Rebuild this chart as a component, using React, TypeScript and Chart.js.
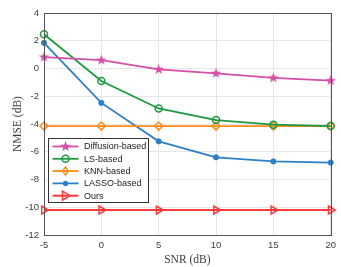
import React, { useEffect, useRef } from "react";
import { Chart, registerables } from "chart.js";

Chart.register(...registerables);

const snr = [-5, 0, 5, 10, 15, 20];
const diffusion = [0.82, 0.6, -0.07, -0.35, -0.68, -0.88];
const lsBased = [2.47, -0.9, -2.88, -3.72, -4.05, -4.15];
const knnBased = [-4.15, -4.15, -4.15, -4.15, -4.15, -4.15];
const lassoBased = [1.85, -2.48, -5.25, -6.4, -6.7, -6.78];
const ours = [-10.2, -10.2, -10.2, -10.2, -10.2, -10.2];

const seriesNames = ["Diffusion-based", "LS-based", "KNN-based", "LASSO-based", "Ours"];
const xTicks = [-5, 0, 5, 10, 15, 20];
const yTicks = [-12, -10, -8, -6, -4, -2, 0, 2, 4];

const C_DIFF = "#d44fa8";
const C_LS = "#1e9a3e";
const C_KNN = "#ff8c1a";
const C_LASSO = "#2d7fc6";
const C_OURS = "#ff3a3a";

function makeStar(color: string, r: number) {
  const size = Math.ceil(r * 2 + 2);
  const c = document.createElement("canvas");
  c.width = size;
  c.height = size;
  const ctx = c.getContext("2d")!;
  const cx = size / 2, cy = size / 2;
  ctx.beginPath();
  for (let i = 0; i < 10; i++) {
    const rad = i % 2 === 0 ? r : r * 0.42;
    const a = -Math.PI / 2 + (i * Math.PI) / 5;
    const x = cx + rad * Math.cos(a);
    const y = cy + rad * Math.sin(a);
    if (i === 0) ctx.moveTo(x, y);
    else ctx.lineTo(x, y);
  }
  ctx.closePath();
  ctx.fillStyle = color;
  ctx.fill();
  return c;
}

function pts(vals: number[]) {
  return snr.map((x, i) => ({ x, y: vals[i] }));
}

export default function App() {
  const ref = useRef<HTMLCanvasElement | null>(null);
  useEffect(() => {
    if (!ref.current) return;
    const star = makeStar(C_DIFF, 5.5);

    const legendPlugin = {
      id: "boxLegend",
      afterDraw(chart: any) {
        const ctx = chart.ctx as CanvasRenderingContext2D;
        const a = chart.chartArea;
        ctx.save();
        ctx.strokeStyle = "#555555";
        ctx.lineWidth = 1;
        ctx.strokeRect(Math.round(a.left) + 0.5, Math.round(a.top) + 0.5, Math.round(a.right - a.left), Math.round(a.bottom - a.top));
        const bx = a.left + 4.5, by = a.top + 125.5, bw = 100, bh = 64;
        ctx.fillStyle = "#ffffff";
        ctx.fillRect(bx, by, bw, bh);
        ctx.strokeStyle = "#333333";
        ctx.strokeRect(bx, by, bw, bh);
        const colors = [C_DIFF, C_LS, C_KNN, C_LASSO, C_OURS];
        const widths = [1.8, 1.8, 1.8, 1.8, 2];
        for (let i = 0; i < 5; i++) {
          const y = by + 8 + i * 12.3;
          const x0 = bx + 4, x1 = bx + 30, xm = (x0 + x1) / 2;
          ctx.strokeStyle = colors[i];
          ctx.lineWidth = widths[i];
          ctx.beginPath();
          ctx.moveTo(x0, y);
          ctx.lineTo(x1, y);
          ctx.stroke();
          ctx.lineWidth = 1.5;
          ctx.beginPath();
          if (i === 0) {
            ctx.drawImage(star, xm - star.width / 2, y - star.height / 2);
          } else if (i === 1) {
            ctx.arc(xm, y, 3.5, 0, Math.PI * 2);
            ctx.stroke();
          } else if (i === 2) {
            ctx.moveTo(xm, y - 4);
            ctx.lineTo(xm + 3, y);
            ctx.lineTo(xm, y + 4);
            ctx.lineTo(xm - 3, y);
            ctx.closePath();
            ctx.stroke();
          } else if (i === 3) {
            ctx.fillStyle = colors[i];
            ctx.arc(xm, y, 2.6, 0, Math.PI * 2);
            ctx.fill();
          } else {
            ctx.moveTo(xm - 3, y - 4.5);
            ctx.lineTo(xm + 4.5, y);
            ctx.lineTo(xm - 3, y + 4.5);
            ctx.closePath();
            ctx.stroke();
          }
          ctx.fillStyle = "#222222";
          ctx.font = "9px 'Liberation Sans', Arial, sans-serif";
          ctx.textBaseline = "middle";
          ctx.textAlign = "left";
          ctx.fillText(seriesNames[i], bx + 35.5, y + 0.5);
        }
        ctx.restore();
      },
    };

    const common = { clip: false as any, fill: false, pointHoverRadius: 0 };

    const chart = new Chart(ref.current, {
      type: "line",
      data: {
        datasets: [
          {
            ...common,
            label: seriesNames[0],
            data: pts(diffusion),
            borderColor: C_DIFF,
            backgroundColor: C_DIFF,
            borderWidth: 1.8,
            pointStyle: star as any,
            pointRadius: 5,
          },
          {
            ...common,
            label: seriesNames[1],
            data: pts(lsBased),
            borderColor: C_LS,
            backgroundColor: "rgba(0,0,0,0)",
            borderWidth: 1.8,
            pointStyle: "circle",
            pointRadius: 3.5,
            pointBorderWidth: 1.5,
          },
          {
            ...common,
            label: seriesNames[2],
            data: pts(knnBased),
            borderColor: C_KNN,
            backgroundColor: "rgba(0,0,0,0)",
            borderWidth: 1.8,
            pointStyle: "rectRot",
            pointRadius: 4,
            pointBorderWidth: 1.5,
          },
          {
            ...common,
            label: seriesNames[3],
            data: pts(lassoBased),
            borderColor: C_LASSO,
            backgroundColor: C_LASSO,
            borderWidth: 1.8,
            pointStyle: "circle",
            pointRadius: 2.6,
            pointBorderWidth: 1,
          },
          {
            ...common,
            label: seriesNames[4],
            data: pts(ours),
            borderColor: C_OURS,
            backgroundColor: "rgba(0,0,0,0)",
            borderWidth: 2,
            pointStyle: "triangle",
            pointRotation: 90,
            pointRadius: 4.5,
            pointBorderWidth: 1.5,
          },
        ],
      },
      options: {
        animation: false,
        responsive: false,
        maintainAspectRatio: false,
        events: [],
        layout: { padding: { top: 13, right: 10, left: 0, bottom: 0 } },
        plugins: { legend: { display: false }, tooltip: { enabled: false } },
        elements: { line: { tension: 0 } },
        scales: {
          x: {
            type: "linear",
            min: -5,
            max: 20,
            afterBuildTicks: (s: any) => {
              s.ticks = xTicks.map((v) => ({ value: v }));
            },
            afterFit: (s: any) => {
              s.height = 32;
            },
            grid: { color: "#e6e6e6", drawTicks: false },
            border: { display: false },
            ticks: {
              padding: 5,
              color: "#404040",
              font: { family: "'Liberation Sans', Arial, sans-serif", size: 9.5 },
              maxRotation: 0,
            },
            title: {
              display: true,
              text: "SNR (dB)",
              color: "#404040",
              font: { family: "'Liberation Serif', 'Times New Roman', serif", size: 11.5 },
              padding: { top: 0, bottom: 0 },
            },
          },
          y: {
            type: "linear",
            min: -12,
            max: 4,
            afterBuildTicks: (s: any) => {
              s.ticks = yTicks.map((v) => ({ value: v }));
            },
            afterFit: (s: any) => {
              s.width = 44;
            },
            grid: { color: "#e6e6e6", drawTicks: false },
            border: { display: false },
            ticks: {
              padding: 5,
              color: "#404040",
              font: { family: "'Liberation Sans', Arial, sans-serif", size: 9.5 },
            },
            title: {
              display: true,
              text: "NMSE (dB)",
              color: "#404040",
              font: { family: "'Liberation Serif', 'Times New Roman', serif", size: 11.5 },
              padding: { top: 11, bottom: 0 },
            },
          },
        },
      },
      plugins: [legendPlugin],
    } as any);
    return () => chart.destroy();
  }, []);

  return (
    <div style={{ position: "fixed", left: 0, top: 0, width: 341, height: 267, background: "#fff" }}>
      <canvas ref={ref} width={341} height={267} style={{ display: "block", width: 341, height: 267 }} />
    </div>
  );
}
